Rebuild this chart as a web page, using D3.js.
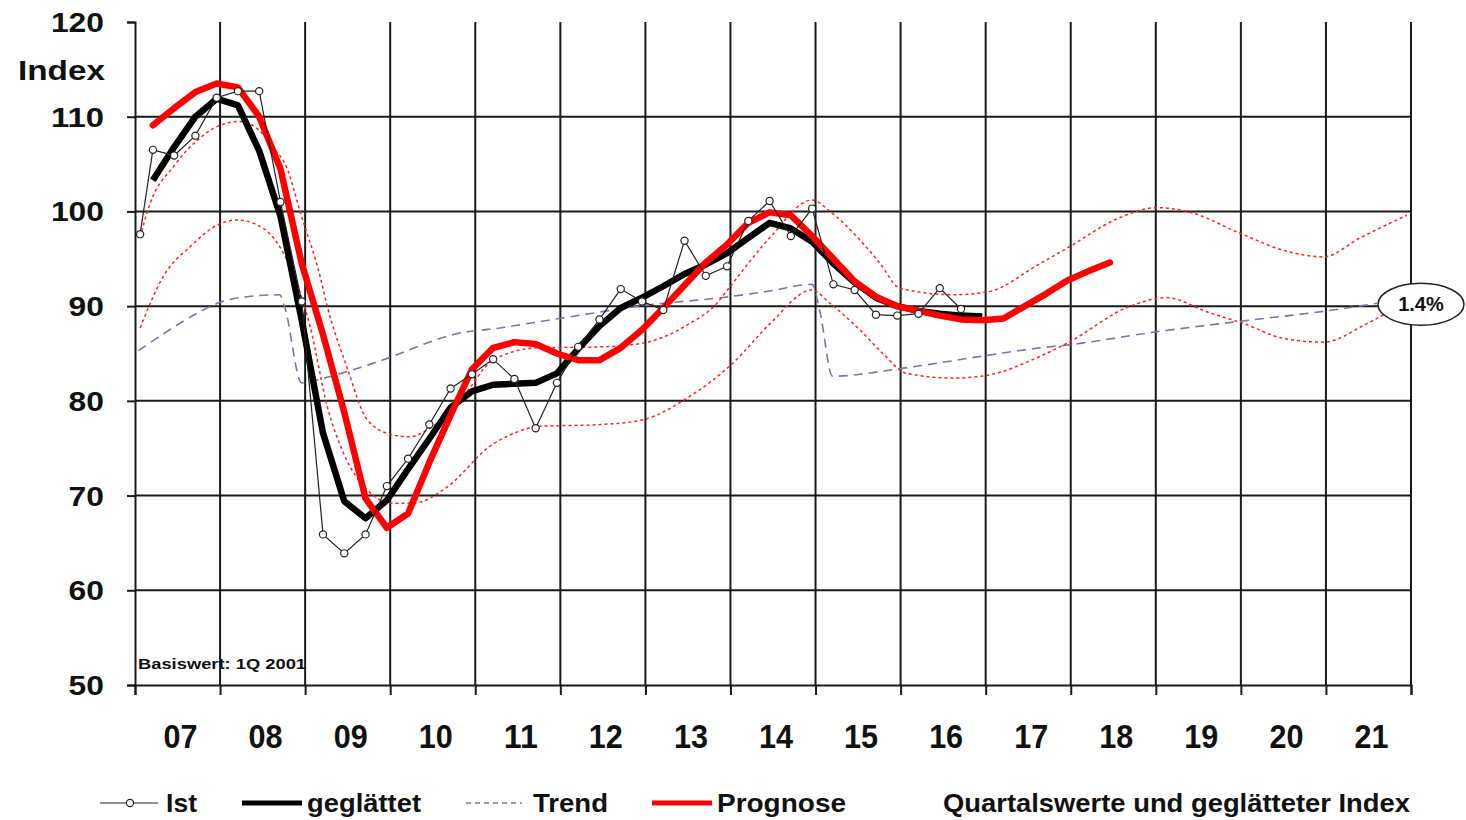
<!DOCTYPE html>
<html>
<head>
<meta charset="utf-8">
<script src="https://cdn.jsdelivr.net/npm/d3@7/dist/d3.min.js"></script>
<style>
  body { margin: 0; background: #fff; }
  text { font-family: "Liberation Sans", Arial, sans-serif; font-weight: bold; fill: #111; }
</style>
</head>
<body>
<svg id="chart" width="1466" height="820"></svg>
<script>
// year labels on the x axis, index ticks on the y axis
const years = ['07', '08', '09', '10', '11', '12', '13', '14', '15', '16', '17', '18', '19', '20', '21'];
const yTicks = [50, 60, 70, 80, 90, 100, 110, 120];

// quarterly series, first value sits at 2007.21, one quarter apart
const firstQuarter = 2007.21;
const istLead = [2007.06, 97.6];
const ist = [106.5, 105.9, 108.0, 112.0, 112.7, 112.7, 101.0, 90.5, 65.9, 63.9,
  65.9, 71.0, 73.9, 77.5, 81.3, 82.8, 84.4, 82.3, 77.1, 81.9,
  85.7, 88.6, 91.8, 90.5, 89.6, 96.9, 93.2, 94.2, 99.0, 101.1,
  97.4, 100.3, 92.3, 91.7, 89.1, 89.0, 89.2, 91.9, 89.7];
const smoothed = [103.3, 106.8, 110.0, 111.9, 111.2, 106.4, 99.5, 88.5, 76.6, 69.4,
  67.6, 69.5, 72.8, 76.0, 79.3, 81.0, 81.7, 81.8, 81.9, 82.9,
  85.5, 87.9, 89.8, 90.9, 92.1, 93.4, 94.4, 95.6, 97.2, 98.8,
  98.2, 96.8, 94.5, 92.5, 90.9, 90.0, 89.5, 89.2, 89.0, 88.9];
const forecast = [109.1, 110.9, 112.6, 113.5, 113.1, 110.0, 104.5, 94.5, 87.0, 78.8,
  69.7, 66.6, 68.1, 73.5, 78.5, 83.3, 85.6, 86.2, 86.0, 85.0,
  84.3, 84.3, 85.6, 87.5, 89.8, 92.2, 94.6, 96.5, 98.8, 99.9,
  99.6, 97.4, 95.0, 92.6, 91.0, 90.0, 89.5, 89.0, 88.6, 88.5,
  88.7, 90.0, 91.3, 92.7, 93.7, 94.6];

// trend and band curves as [year, index]
const trend = [[2007.04, 85.3], [2007.46, 87.8], [2007.72, 89.2], [2008.00, 90.4], [2008.23, 90.9],
  [2008.70, 91.2], [2008.76, 89.9], [2008.96, 81.9], [2009.26, 82.5], [2009.64, 83.5],
  [2010.03, 84.7], [2010.43, 86.1], [2010.74, 87.0], [2011.29, 87.7], [2011.99, 88.7],
  [2013.02, 90.1], [2013.99, 91.0], [2014.46, 91.6], [2014.96, 92.3], [2015.05, 89.5],
  [2015.20, 82.6], [2015.99, 83.4], [2017.02, 84.8], [2017.64, 85.6], [2017.96, 85.9],
  [2019.01, 87.3], [2019.99, 88.4], [2021.01, 89.5], [2021.60, 90.3]];
const bandUpper = [[2007.06, 97.3], [2007.18, 100.9], [2007.45, 104.7], [2007.73, 107.5], [2008.00, 109.1],
  [2008.23, 109.5], [2008.43, 108.8], [2008.62, 106.8], [2008.79, 104.5], [2008.94, 100.0],
  [2009.18, 93.0], [2009.26, 90.0], [2009.49, 83.6], [2009.73, 78.0], [2010.03, 76.4],
  [2010.23, 76.2], [2010.43, 76.9], [2010.82, 80.0], [2011.21, 84.3], [2011.73, 85.6],
  [2012.47, 85.7], [2012.97, 86.1], [2013.49, 88.0], [2013.84, 90.3], [2013.99, 92.0],
  [2014.46, 97.2], [2014.96, 101.2], [2015.17, 100.0], [2015.52, 97.0], [2015.76, 94.5],
  [2015.99, 91.9], [2016.62, 91.2], [2017.02, 91.5], [2017.64, 94.5], [2017.99, 96.3],
  [2018.54, 99.2], [2019.01, 100.4], [2019.37, 100.0], [2019.99, 97.7], [2020.50, 95.9],
  [2020.97, 95.2], [2021.40, 97.2], [2021.95, 99.6]];
const bandLower = [[2007.06, 87.7], [2007.33, 93.1], [2007.65, 96.3], [2008.00, 98.7], [2008.20, 99.1],
  [2008.43, 98.6], [2008.62, 97.3], [2008.82, 94.2], [2009.06, 87.8], [2009.26, 79.4],
  [2009.45, 74.5], [2009.73, 70.6], [2010.03, 69.2], [2010.27, 69.2], [2010.67, 70.9],
  [2011.17, 75.2], [2011.49, 76.7], [2011.73, 77.3], [2012.47, 77.5], [2012.97, 78.0],
  [2013.49, 80.3], [2014.03, 84.0], [2014.46, 88.1], [2014.96, 91.7], [2015.17, 90.3],
  [2015.52, 87.5], [2015.79, 85.0], [2016.07, 82.9], [2016.62, 82.4], [2017.02, 82.7],
  [2017.64, 84.7], [2017.96, 86.1], [2018.70, 90.0], [2019.13, 90.9], [2019.60, 89.4],
  [2020.02, 88.2], [2020.50, 86.6], [2020.97, 86.2], [2021.49, 88.2], [2021.72, 89.3]];
const trendRate = '1.4%';

const svg = d3.select('#chart');
const x = d3.scaleLinear().domain([2007, 2022]).range([135, 1411]);
const y = d3.scaleLinear().domain([50, 120]).range([685, 22]);
const q = i => firstQuarter + i * 0.25;

svg.append('rect').attr('width', 1466).attr('height', 820).attr('fill', '#fff');

// grid
const grid = svg.append('g').attr('stroke', '#1a1a1a').attr('stroke-width', 2);
d3.range(2008, 2023).forEach(yr => {
  grid.append('line').attr('x1', x(yr)).attr('x2', x(yr)).attr('y1', y(120)).attr('y2', y(50));
});
yTicks.filter(v => v > 50 && v < 120).forEach(v => {
  grid.append('line').attr('x1', x(2007)).attr('x2', x(2022)).attr('y1', y(v)).attr('y2', y(v));
});

// axes
const yAxis = svg.append('g')
  .attr('transform', `translate(${x(2007)},0)`)
  .call(d3.axisLeft(y).tickValues(yTicks).tickSize(8).tickFormat(''));
const xAxis = svg.append('g')
  .attr('transform', `translate(0,${y(50)})`)
  .call(d3.axisBottom(x).tickValues(d3.range(2007, 2023)).tickSize(10).tickFormat(''));
[yAxis, xAxis].forEach(a => {
  a.selectAll('path, line').attr('stroke', '#1a1a1a').attr('stroke-width', 2);
});

svg.selectAll('.ylab')
  .data(yTicks)
  .join('text')
  .attr('x', 104)
  .attr('y', d => y(d) + 10)
  .attr('text-anchor', 'end')
  .attr('font-size', 27)
  .attr('textLength', d => String(d).length * 17.7)
  .attr('lengthAdjust', 'spacingAndGlyphs')
  .text(d => d);
svg.append('text').attr('x', 105).attr('y', 80).attr('text-anchor', 'end')
  .attr('font-size', 27).attr('textLength', 87).attr('lengthAdjust', 'spacingAndGlyphs')
  .text('Index');

svg.selectAll('.xlab')
  .data(years)
  .join('text')
  .attr('x', (d, i) => x(2007 + i + 0.5) + 3)
  .attr('y', 748)
  .attr('text-anchor', 'middle')
  .attr('font-size', 34)
  .attr('textLength', 34)
  .attr('lengthAdjust', 'spacingAndGlyphs')
  .text(d => d);

svg.append('text').attr('x', 138).attr('y', 669)
  .attr('font-size', 15).attr('textLength', 168).attr('lengthAdjust', 'spacingAndGlyphs')
  .attr('fill', '#1a1a2e')
  .text('Basiswert: 1Q 2001');

// series
const curve = d3.line().x(d => x(d[0])).y(d => y(d[1])).curve(d3.curveMonotoneX);
const lin = d3.line().x(d => x(d[0])).y(d => y(d[1]));

svg.append('path').attr('d', curve(trend)).attr('fill', 'none')
  .attr('stroke', '#7d72aa').attr('stroke-width', 1.6).attr('stroke-dasharray', '9,6');
[bandUpper, bandLower].forEach(b => {
  svg.append('path').attr('d', curve(b)).attr('fill', 'none')
    .attr('stroke', '#ff2020').attr('stroke-width', 1.5).attr('stroke-dasharray', '3,3');
});

const smoothPts = smoothed.map((v, i) => [q(i), v]);
svg.append('path').attr('d', lin(smoothPts)).attr('fill', 'none')
  .attr('stroke', '#000').attr('stroke-width', 6.5).attr('stroke-linejoin', 'round');

const forecastPts = forecast.map((v, i) => [q(i), v]);
svg.append('path').attr('d', lin(forecastPts)).attr('fill', 'none')
  .attr('stroke', '#ff0000').attr('stroke-width', 6.5)
  .attr('stroke-linejoin', 'round').attr('stroke-linecap', 'round');

const istPts = [istLead].concat(ist.map((v, i) => [q(i), v]));
svg.append('path').attr('d', lin(istPts)).attr('fill', 'none')
  .attr('stroke', '#222').attr('stroke-width', 1.2);
svg.selectAll('.ist')
  .data(istPts)
  .join('circle')
  .attr('cx', d => x(d[0]))
  .attr('cy', d => y(d[1]))
  .attr('r', 3.6)
  .attr('fill', '#fff')
  .attr('stroke', '#222')
  .attr('stroke-width', 1.2);

// growth-rate bubble at the end of the trend
const last = trend[trend.length - 1];
const bubble = svg.append('g').attr('transform', `translate(${x(last[0]) + 44},${y(last[1]) + 1})`);
bubble.append('ellipse').attr('rx', 43).attr('ry', 21).attr('fill', '#fff')
  .attr('stroke', '#222').attr('stroke-width', 1.5);
bubble.append('text').attr('y', 7).attr('text-anchor', 'middle').attr('font-size', 20)
  .attr('fill', '#1b1b3a').text(trendRate);

// legend
const lg = svg.append('g');
lg.append('line').attr('x1', 100).attr('x2', 158).attr('y1', 803).attr('y2', 803)
  .attr('stroke', '#222').attr('stroke-width', 1.2);
lg.append('circle').attr('cx', 130).attr('cy', 803).attr('r', 3.6)
  .attr('fill', '#fff').attr('stroke', '#222').attr('stroke-width', 1.2);
lg.append('line').attr('x1', 242).attr('x2', 302).attr('y1', 803).attr('y2', 803)
  .attr('stroke', '#000').attr('stroke-width', 5);
lg.append('line').attr('x1', 466).attr('x2', 522).attr('y1', 803).attr('y2', 803)
  .attr('stroke', '#7d72aa').attr('stroke-width', 1.5).attr('stroke-dasharray', '5,4');
lg.append('line').attr('x1', 652).attr('x2', 712).attr('y1', 803).attr('y2', 803)
  .attr('stroke', '#ff0000').attr('stroke-width', 5);
const legendText = [
  ['Ist', 166, 31], ['geglättet', 307, 114], ['Trend', 533, 75],
  ['Prognose', 717, 129], ['Quartalswerte und geglätteter Index', 943, 467]
];
lg.selectAll('text')
  .data(legendText)
  .join('text')
  .attr('x', d => d[1])
  .attr('y', 812)
  .attr('font-size', 26)
  .attr('textLength', d => d[2])
  .attr('lengthAdjust', 'spacingAndGlyphs')
  .text(d => d[0]);
</script>
</body>
</html>
